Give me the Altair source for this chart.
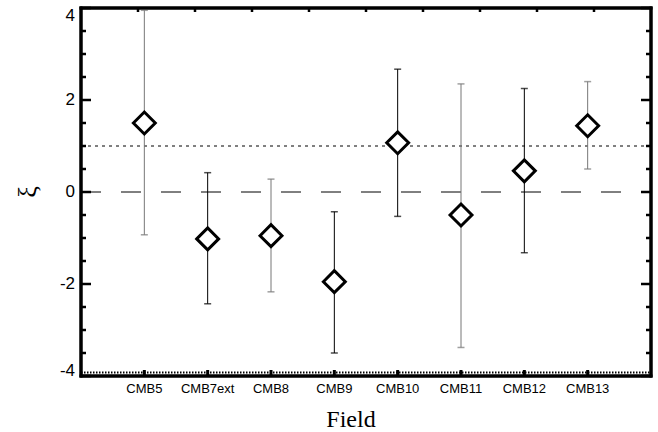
import altair as alt
import pandas as pd

# ---- data ----
fields = ["CMB5", "CMB7ext", "CMB8", "CMB9", "CMB10", "CMB11", "CMB12", "CMB13"]
xi = [1.50, -1.02, -0.95, -1.95, 1.07, -0.50, 0.46, 1.44]
xi_hi = [3.95, 0.42, 0.28, -0.43, 2.67, 2.35, 2.25, 2.40]
xi_lo = [-0.93, -2.43, -2.17, -3.50, -0.53, -3.38, -1.32, 0.50]
bar_colors = ["#777777", "black", "#777777", "black", "black", "#777777", "black", "#777777"]

y_major = [-4, -2, 0, 2, 4]
y_labels = ["-4", "-2", "0", "2", "4"]
y_minor = [-3.5, -3, -2.5, -1.5, -1, -0.5, 0.5, 1, 1.5, 2.5, 3, 3.5]
top_ticks = [0.9, 1.8, 2.7, 3.6, 4.5, 5.4, 6.3, 7.2, 8.1]
dashed_ref = [0]
dotted_ref = [1]
x_title = ["Field"]
y_title = ["ξ"]

pos = list(range(1, len(fields) + 1))
df = pd.DataFrame({"pos": pos, "field": fields, "xi": xi, "hi": xi_hi, "lo": xi_lo, "col": bar_colors})
ylab_bot_df = pd.DataFrame({"v": y_major[:1], "t": y_labels[:1]})
ylab_mid_df = pd.DataFrame({"v": y_major[1:-1], "t": y_labels[1:-1]})
ylab_top_df = pd.DataFrame({"v": y_major[-1:], "t": y_labels[-1:]})
frame_h = pd.DataFrame({"y": [-4, 4], "x0": [0, 0], "x1": [9, 9]})
frame_v = pd.DataFrame({"x": [0, 9], "y0": [-4, -4], "y1": [4, 4]})

W, H = 570, 368
xscale = alt.Scale(domain=[0, 9], nice=False, zero=False)
yscale = alt.Scale(domain=[-4, 4], nice=False, zero=False)


def hx(field):
    return alt.X(field, scale=xscale, axis=None)


def vy(field):
    return alt.Y(field, scale=yscale, axis=None)


base = alt.Chart(df)

dashed = alt.Chart(pd.DataFrame({"v": dashed_ref})).mark_rule(
    color="black", strokeWidth=1, strokeDash=[20, 20]
).encode(y=vy("v:Q"), x=alt.value(0), x2=alt.value(W))

dotted = alt.Chart(pd.DataFrame({"v": dotted_ref})).mark_rule(
    color="black", strokeWidth=1, strokeDash=[3, 4]
).encode(y=vy("v:Q"), x=alt.value(0), x2=alt.value(W))

bars = base.mark_rule(strokeWidth=1).encode(
    x=hx("pos:Q"), y=vy("lo:Q"), y2="hi:Q",
    color=alt.Color("col:N", scale=None),
)
cap_hi = base.mark_tick(orient="horizontal", size=7, thickness=1.5).encode(
    x=hx("pos:Q"), y=vy("hi:Q"), color=alt.Color("col:N", scale=None),
)
cap_lo = base.mark_tick(orient="horizontal", size=7, thickness=1.5).encode(
    x=hx("pos:Q"), y=vy("lo:Q"), color=alt.Color("col:N", scale=None),
)
pts = base.mark_point(shape="diamond", size=480, filled=True, fill="white", stroke="black",
                      strokeWidth=3, opacity=1).encode(x=hx("pos:Q"), y=vy("xi:Q"))

ymaj = pd.DataFrame({"v": y_major})
ymin = pd.DataFrame({"v": y_minor})
tick_l_maj = alt.Chart(ymaj).mark_rule(color="black", strokeWidth=2.5).encode(
    y=vy("v:Q"), x=alt.value(0), x2=alt.value(10))
tick_l_min = alt.Chart(ymin).mark_rule(color="black", strokeWidth=2.5).encode(
    y=vy("v:Q"), x=alt.value(0), x2=alt.value(5))
tick_r_maj = alt.Chart(ymaj).mark_rule(color="black", strokeWidth=2.5).encode(
    y=vy("v:Q"), x=alt.value(W), x2=alt.value(W - 10))
tick_r_min = alt.Chart(ymin).mark_rule(color="black", strokeWidth=2.5).encode(
    y=vy("v:Q"), x=alt.value(W), x2=alt.value(W - 5))

tick_bottom = base.mark_rule(color="black", strokeWidth=3).encode(
    x=hx("pos:Q"), y=alt.value(H), y2=alt.value(H - 6))
tick_top = alt.Chart(pd.DataFrame({"p": top_ticks})).mark_rule(color="black", strokeWidth=2.5).encode(
    x=hx("p:Q"), y=alt.value(0), y2=alt.value(4))
bottom_minor = alt.Chart(pd.DataFrame({"v": [-4]})).mark_rule(
    color="black", strokeWidth=2, strokeDash=[1.5, 1.5]
).encode(y=alt.value(H - 3.5), x=alt.value(0), x2=alt.value(W))

# thick plot frame drawn as rules through the scales
frame_hr = alt.Chart(frame_h).mark_rule(color="black", strokeWidth=3, strokeCap="square").encode(
    x=hx("x0:Q"), x2="x1:Q", y=vy("y:Q"))
frame_vr = alt.Chart(frame_v).mark_rule(color="black", strokeWidth=3, strokeCap="square").encode(
    y=vy("y0:Q"), y2="y1:Q", x=hx("x:Q"))

# tick labels (real text)
ylab_mid = alt.Chart(ylab_mid_df).mark_text(
    align="right", baseline="middle", dx=-6, font="Liberation Sans", fontSize=17, color="black"
).encode(y=vy("v:Q"), x=alt.value(0), text="t:N")
ylab_top = alt.Chart(ylab_top_df).mark_text(
    align="right", baseline="alphabetic", dx=-6, dy=13, font="Liberation Sans", fontSize=17, color="black"
).encode(y=vy("v:Q"), x=alt.value(0), text="t:N")
ylab_bot = alt.Chart(ylab_bot_df).mark_text(
    align="right", baseline="alphabetic", dx=-6, font="Liberation Sans", fontSize=17, color="black"
).encode(y=vy("v:Q"), x=alt.value(0), text="t:N")

xlab = base.mark_text(align="center", baseline="alphabetic", font="Liberation Sans", fontSize=13,
                      color="black").encode(x=hx("pos:Q"), y=alt.value(H + 17), text="field:N")

xtitle = alt.Chart(pd.DataFrame({"t": x_title})).mark_text(
    font="Liberation Serif", fontSize=24, color="black", align="center", baseline="alphabetic"
).encode(text="t:N", x=alt.value(270), y=alt.value(H + 51))

ytitle = alt.Chart(pd.DataFrame({"t": y_title})).mark_text(
    angle=270, font="Liberation Serif", fontSize=26, color="black", align="center", baseline="middle"
).encode(text="t:N", x=alt.value(-53), y=alt.value(184))

chart = alt.layer(
    dashed, dotted, bars, cap_hi, cap_lo, pts,
    tick_l_maj, tick_l_min, tick_r_maj, tick_r_min, tick_bottom, tick_top, bottom_minor,
    frame_hr, frame_vr,
    ylab_mid, ylab_top, ylab_bot, xlab, xtitle, ytitle,
).properties(
    width=W, height=H,
    autosize=alt.AutoSizeParams(type="none"),
    padding={"left": 81, "top": 8, "right": 7, "bottom": 56},
    background="white",
).configure_view(
    stroke="black", strokeWidth=3
)

chart.save("out.html", embed_options={"renderer": "svg", "actions": False})
